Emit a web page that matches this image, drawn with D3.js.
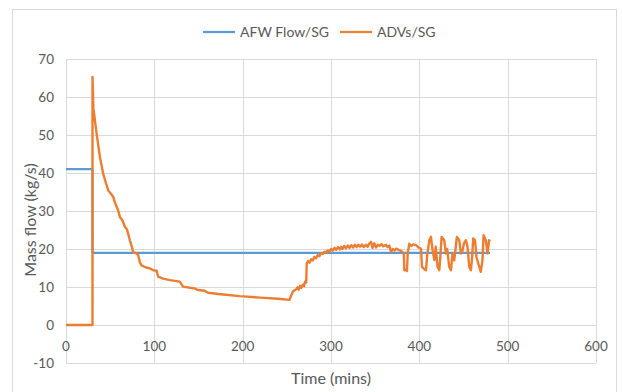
<!DOCTYPE html>
<html>
<head>
<meta charset="utf-8">
<script src="https://cdn.jsdelivr.net/npm/d3@7"></script>
<style>
  body { margin: 0; background: #fff; }
  svg text { font-family: Lato, "Open Sans", sans-serif; fill: #595959; }
</style>
</head>
<body>
<svg id="chart"></svg>
<script>
// data
const xTicks = [0, 100, 200, 300, 400, 500, 600];
const yTicks = [-10, 0, 10, 20, 30, 40, 50, 60, 70];

const afwTime = [0, 30, 30, 480];
const afwFlow = [41, 41, 19, 19];

const advTime = [
    0, 30, 30, 31, 34.7, 38.4, 42.1, 45, 47.8, 50, 53.5, 55, 57.3, 59, 61, 64, 66.7, 69, 72.3, 74,
    76, 79, 81.7, 83.6, 85.5, 90, 94.9, 98.7, 102.5, 104.3, 110, 117.5, 128.8, 132.5, 145.8, 149.5, 157, 160.8, 175, 196.6,
    220, 240, 253, 256.8, 260.6, 262, 263.5, 265, 266.5, 268, 269.5, 270.5, 272, 272.5, 274, 275.7, 277.5, 279.5, 281, 283,
    285, 287, 289, 290.8, 292.5, 294, 296, 298.3, 300, 302, 304, 305.8, 308, 310, 311.5, 313.3, 315, 317, 319, 321,
    323, 325, 327, 329, 331, 333, 335, 337, 339.7, 341.5, 343, 345.3, 347, 349, 351, 353, 355, 357, 359, 362.3,
    364, 366, 368, 370, 372, 374, 377, 379.3, 381, 382.5, 383, 385, 386, 386.8, 388.7, 391, 393, 396.3, 399, 401.9,
    403, 405, 407.5, 409, 411.3, 413.2, 414, 415, 417, 418.5, 420.7, 422.6, 423.8, 425.2, 428.2, 430.1, 431.5, 433.9, 435.8, 437.5,
    439.5, 441, 442.5, 445.2, 447.1, 449, 450.5, 452.7, 454.6, 456.5, 458.4, 459.8, 461, 463, 464.7, 466.7, 469.6, 471.5, 472.7, 475.3,
    477.2, 479, 480
];
const advFlow = [
    0, 0, 65.3, 57, 50.3, 44.2, 39.8, 37.5, 35.4, 34.8, 33.7, 32.5, 31.1, 30.2, 28.4, 27.5, 25.8, 25.2, 22.3, 21,
    19.2, 18.9, 18.4, 16.5, 15.7, 15.2, 14.9, 14.4, 14.3, 12.7, 12.2, 11.8, 11.4, 10.1, 9.6, 9.2, 9.0, 8.5, 8.1, 7.6,
    7.2, 6.9, 6.6, 8.8, 9.4, 9.9, 9.3, 10.3, 9.8, 10.6, 10.2, 11.4, 11.2, 16.2, 16.8, 16.4, 17.3, 17.0, 17.9, 17.6,
    18.4, 18.1, 18.9, 18.7, 19.3, 19.0, 19.6, 19.3, 20.0, 19.6, 20.3, 19.8, 20.5, 19.9, 20.6, 20.1, 20.8, 20.2, 20.9, 20.3,
    21.0, 20.4, 21.1, 20.5, 21.1, 20.6, 21.2, 20.5, 21.1, 20.6, 21.3, 21.9, 20.3, 21.5, 20.4, 21.1, 20.8, 21.3, 20.7, 21.1,
    20.5, 20.9, 19.3, 20.0, 19.6, 20.1, 19.7, 19.5, 19.2, 18.5, 14.4, 14.6, 14.2, 18.8, 21.4, 20.8, 21.2, 21.0, 20.4, 20.1,
    15.3, 14.8, 14.4, 18.5, 22.3, 23.2, 21.5, 19.7, 17.1, 20.6, 15.3, 14.4, 18, 23.2, 22.3, 18.8, 20.0, 15.3, 14.4, 18.8,
    17.0, 20, 23.2, 22.3, 18.8, 19.7, 21.5, 22.3, 20.5, 15.3, 14.4, 18, 22.8, 22.3, 17.9, 16.2, 14.0, 17.1, 23.6, 22.3,
    18.8, 22.3, 22.0
];

const seriesNames = ["AFW Flow/SG", "ADVs/SG"];
const seriesColors = ["#5B9BD5", "#ED7D31"];

const width = 622, height = 392;
const margin = { top: 59, right: 26, bottom: 29, left: 66 };

const svg = d3.select("#chart").attr("width", width).attr("height", height);

// outer chart border
svg.append("rect")
    .attr("x", 12.5).attr("y", 9.5)
    .attr("width", 604).attr("height", 400)
    .attr("fill", "none").attr("stroke", "#D9D9D9");

const x = d3.scaleLinear().domain([0, 600]).range([margin.left, width - margin.right]);
const y = d3.scaleLinear().domain([-10, 70]).range([height - margin.bottom, margin.top]);

// gridlines
svg.append("g").selectAll("line").data(yTicks).enter().append("line")
    .attr("x1", x(0)).attr("x2", x(600))
    .attr("y1", d => Math.round(y(d)) + 0.5).attr("y2", d => Math.round(y(d)) + 0.5)
    .attr("stroke", "#D9D9D9");
svg.append("g").selectAll("line").data(xTicks).enter().append("line")
    .attr("y1", y(-10)).attr("y2", y(70))
    .attr("x1", d => Math.round(x(d)) + 0.5).attr("x2", d => Math.round(x(d)) + 0.5)
    .attr("stroke", "#D9D9D9");

// tick labels
svg.append("g").selectAll("text").data(yTicks).enter().append("text")
    .attr("x", margin.left - 12).attr("y", d => y(d))
    .attr("dy", "0.35em")
    .attr("text-anchor", "end")
    .attr("font-size", 13.5)
    .text(d => d);
svg.append("g").selectAll("text").data(xTicks).enter().append("text")
    .attr("x", d => x(d)).attr("y", y(0) + 26)
    .attr("text-anchor", "middle")
    .attr("font-size", 13.5)
    .text(d => d);

// axis titles
svg.append("text")
    .attr("x", (x(0) + x(600)) / 2).attr("y", 384)
    .attr("text-anchor", "middle")
    .attr("font-size", 16)
    .text("Time (mins)");
svg.append("text")
    .attr("transform", `translate(36,${(y(-10) + y(70)) / 2 + 9}) rotate(-90)`)
    .attr("text-anchor", "middle")
    .attr("font-size", 16)
    .text("Mass flow (kg/s)");

// lines
const line = d3.line().x(d => x(d[0])).y(d => y(d[1]));
const afw = afwTime.map((t, i) => [t, afwFlow[i]]);
const adv = advTime.map((t, i) => [t, advFlow[i]]);

svg.append("path").datum(afw)
    .attr("d", line)
    .attr("fill", "none").attr("stroke", seriesColors[0])
    .attr("stroke-width", 2.25).attr("stroke-linejoin", "round");
svg.append("path").datum(adv)
    .attr("d", line)
    .attr("fill", "none").attr("stroke", seriesColors[1])
    .attr("stroke-width", 2.4).attr("stroke-linejoin", "round");

// legend
const legendX = [203, 340];
const legend = svg.append("g").selectAll("g").data(seriesNames).enter().append("g")
    .attr("transform", (d, i) => `translate(${legendX[i]},32)`);
legend.append("line")
    .attr("x1", 0).attr("x2", 32)
    .attr("stroke", (d, i) => seriesColors[i]).attr("stroke-width", 2.25);
legend.append("text")
    .attr("x", 37).attr("dy", "0.35em")
    .attr("font-size", 14)
    .text(d => d);
</script>
</body>
</html>
